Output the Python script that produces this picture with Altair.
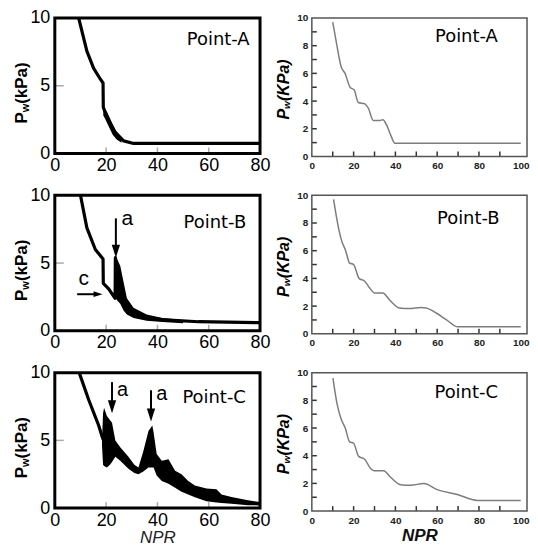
import altair as alt
import pandas as pd

SANS = "Liberation Sans"
LAB = "DejaVu Sans"

# ---------------- Left column: measured wall pressure traces ----------------
left_xticks = [0, 20, 40, 60, 80]
left_yticks = [0, 5, 10]
left_inner_xticks = [20, 40, 60]
left_inner_yticks = [5]

la_npr = [9.3, 12.5, 15.1, 17.7, 18.8, 18.9, 21.0, 23.6, 26.8, 30.7, 80.0]
la_pw = [10.0, 7.55, 6.3, 5.5, 5.2, 3.4, 2.4, 1.55, 0.93, 0.74, 0.74]
la_band_npr = [18.9, 19.5, 20.5, 21.5, 22.5, 24.0, 26.0]
la_band_hi = [3.5, 3.3, 3.0, 2.6, 2.2, 1.6, 1.15]
la_band_lo = [2.8, 2.6, 2.2, 1.8, 1.4, 1.05, 0.8]

lb_npr = [10.0, 12.5, 15.8, 18.8, 18.9, 21.0, 23.5, 23.6, 25.5, 27.0, 30.0, 35.0, 43.0, 56.0, 80.0]
lb_pw = [10.0, 7.6, 6.0, 5.3, 3.5, 3.1, 2.4, 5.4, 3.4, 2.0, 1.35, 1.0, 0.8, 0.67, 0.6]
lb_band_npr = [23.7, 24.5, 25.5, 26.8, 28.1, 30.7, 35.8, 42.0, 50.0]
lb_band_hi = [5.4, 5.2, 4.8, 3.6, 2.4, 1.7, 1.2, 0.95, 0.8]
lb_band_lo = [2.4, 2.2, 2.0, 1.5, 1.2, 0.95, 0.75, 0.65, 0.55]

lc_npr = [9.5, 13.2, 17.1, 18.4, 19.2]
lc_pw = [10.0, 8.0, 6.1, 5.3, 4.9]
lc_band_npr = [18.4, 18.8, 19.2, 20.3, 21.5, 22.3, 23.6, 25.5, 28.7, 31.0, 32.6, 34.5,
               36.5, 38.0, 38.5, 39.7, 41.7, 44.3, 46.9, 49.4, 52.0, 54.6, 59.1, 63.0,
               65.0, 68.9, 75.3, 80.0]
lc_band_hi = [5.0, 7.0, 7.4, 6.8, 6.5, 6.3, 5.0, 4.5, 3.8, 3.2, 3.0, 4.2,
              5.7, 6.1, 5.6, 4.0, 3.5, 3.6, 2.75, 2.5, 2.0, 1.67, 1.45, 1.4,
              1.0, 0.82, 0.58, 0.45]
lc_band_lo = [4.6, 3.2, 3.1, 3.0, 3.2, 3.4, 3.8, 3.5, 2.9, 2.6, 2.5, 2.7,
              3.0, 3.0, 3.0, 2.4, 2.0, 1.8, 1.5, 1.2, 1.0, 0.8, 0.5, 0.42,
              0.38, 0.32, 0.22, 0.2]

# annotations (arrows and letters) for the left column
b_arrow_npr = [23.8]
b_arrow_top = [8.3]
b_arrow_tip = [5.4]
b_c_arrow_from = [8.7]
b_c_arrow_tip = [18.6]
b_c_arrow_pw = [2.7]
b_text_npr = [28.3, 11.3]
b_text_pw = [7.8, 3.4]
b_text = ["a", "c"]

c_arrow_npr = [22.3, 37.5]
c_arrow_top = [9.3, 8.7]
c_arrow_tip = [7.0, 6.4]
c_text_npr = [26.4, 41.7]
c_text_pw = [8.3, 8.0]
c_text = ["a", "a"]

# ---------------- Right column: computed wall pressure ----------------
right_xticks = [0, 20, 40, 60, 80, 100]
right_yticks = [0, 2, 4, 6, 8, 10]
right_inner_xticks = [10, 20, 30, 40, 50, 60, 70, 80, 90]
right_inner_yticks = [1, 2, 3, 4, 5, 6, 7, 8, 9]

ra_npr = [10.0, 11.9, 14.0, 15.9, 18.3, 20.3, 22.2, 25.4, 27.0, 29.4, 32.5, 34.0, 35.7, 38.0, 39.7, 100.0]
ra_pw = [9.7, 8.1, 6.5, 6.0, 5.0, 4.8, 3.9, 3.8, 3.5, 2.6, 2.6, 2.65, 2.3, 1.45, 0.96, 0.95]

rb_npr = [10.4, 12.5, 14.1, 16.2, 18.1, 20.0, 22.6, 25.3, 27.7, 30.1, 34.0, 37.1, 41.9, 46.7,
          52.3, 54.7, 59.5, 64.3, 69.9, 100.0]
rb_pw = [9.7, 7.85, 6.8, 6.0, 5.1, 5.0, 4.0, 3.8, 3.3, 2.95, 2.95, 2.46, 1.87, 1.82,
         1.9, 1.87, 1.5, 1.03, 0.5, 0.5]

rc_npr = [10.1, 12.0, 13.9, 16.0, 18.1, 20.0, 22.4, 25.3, 28.0, 29.9, 34.4, 37.6, 42.4, 47.2,
          53.6, 60.0, 69.6, 79.2, 100.0]
rc_pw = [9.6, 7.8, 6.7, 6.0, 5.0, 4.9, 3.95, 3.75, 3.1, 2.92, 2.92, 2.46, 1.91, 1.87,
         1.99, 1.55, 1.2, 0.77, 0.77]

point_labels = ["Point-A", "Point-B", "Point-C"]
left_label_npr = [63.7, 62.4, 62.1]
left_label_pw = [8.4, 7.95, 8.15]
right_label_npr = [74.0, 74.9, 73.9]
right_label_pw = [8.6, 8.3, 8.5]

LW, LH = 206, 136
RW, RH = 216, 139


def left_x(show_title):
    kw = dict(values=left_xticks, labelFont=SANS, labelFontSize=18, labelColor="#000",
              ticks=False, domain=False, grid=False, labelPadding=3, labelFlush=False,
              labelOverlap=False)
    if show_title:
        kw.update(title="NPR", titleFont=SANS, titleFontSize=17, titleFontStyle="italic",
                  titleFontWeight="normal", titleColor="#222", titlePadding=1)
    else:
        kw.update(title="")
    return alt.X("npr:Q", scale=alt.Scale(domain=[0, 80], nice=False, zero=False), axis=alt.Axis(**kw))


def left_y():
    return alt.Y("pw:Q", scale=alt.Scale(domain=[0, 10], nice=False, zero=False),
                 axis=alt.Axis(values=left_yticks, labelFont=SANS, labelFontSize=18, labelColor="#000",
                               ticks=False, domain=False, grid=False, labelPadding=5, title=""))


def right_x(show_title):
    kw = dict(values=right_xticks, labelFont=SANS, labelFontSize=10, labelFontWeight="bold",
              labelColor="#222", ticks=False, domain=False, grid=False, labelPadding=4,
              labelFlush=False, labelOverlap=False)
    if show_title:
        kw.update(title="NPR", titleFont=SANS, titleFontSize=17, titleFontStyle="italic",
                  titleFontWeight="bold", titleColor="#111", titlePadding=3)
    else:
        kw.update(title="")
    return alt.X("npr:Q", scale=alt.Scale(domain=[0, 103], nice=False, zero=False), axis=alt.Axis(**kw))


def right_y():
    return alt.Y("pw:Q", scale=alt.Scale(domain=[0, 10], nice=False, zero=False),
                 axis=alt.Axis(values=right_yticks, labelFont=SANS, labelFontSize=10,
                               labelFontWeight="bold", labelColor="#222", ticks=False,
                               domain=False, grid=False, labelPadding=4, title=""))


def ytitle(parts, sizes, advances, x_base, y_start, sub_shift, style):
    layers = []
    y = y_start
    for i, (txt, fs) in enumerate(zip(parts, sizes)):
        xx = x_base + (sub_shift if i == 1 else 0)
        layers.append(
            alt.Chart(pd.DataFrame({"t": [txt]})).mark_text(
                font=SANS, fontSize=fs, fontWeight="bold", fontStyle=style, angle=270,
                align="left", baseline="alphabetic", color="#000"
            ).encode(x=alt.value(xx), y=alt.value(y), text="t:N")
        )
        if i < len(advances):
            y -= advances[i]
    return layers


def frame(w, h, color, width):
    return alt.Chart(pd.DataFrame({"f": [0]})).mark_rect(
        fillOpacity=0, stroke=color, strokeWidth=width
    ).encode(x=alt.value(0), x2=alt.value(w), y=alt.value(0), y2=alt.value(h))


def arrow_down(xe, ye, npr, top, tip, head_units):
    shaft = pd.DataFrame({"npr": npr, "pw": top, "pw2": [t + head_units for t in tip]})
    head = pd.DataFrame({"npr": npr, "pw": tip})
    return [
        alt.Chart(shaft).mark_rule(color="#000", strokeWidth=2).encode(x=xe, y=ye, y2="pw2:Q"),
        alt.Chart(head).mark_point(shape="M -0.32 -1 L 0.32 -1 L 0 0 Z", size=676, filled=True,
                                   color="#000", opacity=1, strokeWidth=0).encode(x=xe, y=ye),
    ]


def left_panel(i, line_npr, line_pw, band_npr, band_hi, band_lo, extra, show_title):
    xe, ye = left_x(show_title), left_y()
    layers = [
        alt.Chart(pd.DataFrame({"npr": left_inner_xticks})).mark_rule(color="#aaa", strokeWidth=1.5)
        .encode(x=xe, y=alt.value(LH), y2=alt.value(LH - 6)),
        alt.Chart(pd.DataFrame({"pw": left_inner_yticks})).mark_rule(color="#aaa", strokeWidth=1.5)
        .encode(y=ye, x=alt.value(0), x2=alt.value(9)),
        alt.Chart(pd.DataFrame({"npr": band_npr, "pw": band_hi, "lo": band_lo}))
        .mark_area(color="#000", opacity=1, clip=True).encode(x=xe, y=ye, y2="lo:Q"),
        alt.Chart(pd.DataFrame({"npr": line_npr, "pw": line_pw}))
        .mark_line(color="#000", strokeWidth=3.2, clip=True, strokeJoin="round").encode(x=xe, y=ye),
        alt.Chart(pd.DataFrame({"npr": [left_label_npr[i]], "pw": [left_label_pw[i]], "t": [point_labels[i]]}))
        .mark_text(font=LAB, fontSize=18, align="center", baseline="middle", color="#000")
        .encode(x=xe, y=ye, text="t:N"),
        frame(LW, LH, "#000", 3),
    ]
    layers += extra(xe, ye)
    layers += ytitle(["P", "w", "(kPa)"], [17, 11, 17], [11.3, 8.6], -28, 106, 2, "normal")
    return alt.layer(*layers).properties(width=LW, height=LH)


def right_panel(i, line_npr, line_pw, show_title):
    xe, ye = right_x(show_title), right_y()
    layers = [
        alt.Chart(pd.DataFrame({"npr": right_inner_xticks})).mark_rule(color="#333", strokeWidth=1.5)
        .encode(x=xe, y=alt.value(RH), y2=alt.value(RH - 5)),
        alt.Chart(pd.DataFrame({"pw": right_inner_yticks})).mark_rule(color="#333", strokeWidth=1.5)
        .encode(y=ye, x=alt.value(0), x2=alt.value(5)),
        alt.Chart(pd.DataFrame({"npr": line_npr, "pw": line_pw}))
        .mark_line(color="#7d7d7d", strokeWidth=1.5, interpolate="monotone", clip=True).encode(x=xe, y=ye),
        alt.Chart(pd.DataFrame({"npr": [right_label_npr[i]], "pw": [right_label_pw[i]], "t": [point_labels[i]]}))
        .mark_text(font=LAB, fontSize=18, align="center", baseline="middle", color="#000")
        .encode(x=xe, y=ye, text="t:N"),
        frame(RW, RH, "#555", 1.5),
    ]
    layers += ytitle(["P", "w", "(KPa)"], [16, 10, 16], [10.7, 8.0], -23, 102, 1.5, "italic")
    return alt.layer(*layers).properties(width=RW, height=RH)


def no_extra(xe, ye):
    return []


def extra_b(xe, ye):
    lay = arrow_down(xe, ye, b_arrow_npr, b_arrow_top, b_arrow_tip, 0.6)
    hshaft = pd.DataFrame({"npr": b_c_arrow_from, "npr2": [t - 2.0 for t in b_c_arrow_tip], "pw": b_c_arrow_pw})
    hhead = pd.DataFrame({"npr": b_c_arrow_tip, "pw": b_c_arrow_pw})
    lay += [
        alt.Chart(hshaft).mark_rule(color="#000", strokeWidth=2).encode(x=xe, x2="npr2:Q", y=ye),
        alt.Chart(hhead).mark_point(shape="M -1 -0.32 L -1 0.32 L 0 0 Z", size=324, filled=True,
                                    color="#000", opacity=1, strokeWidth=0).encode(x=xe, y=ye),
        alt.Chart(pd.DataFrame({"npr": b_text_npr, "pw": b_text_pw, "t": b_text}))
        .mark_text(font=SANS, fontSize=21, align="center", baseline="alphabetic", color="#000")
        .encode(x=xe, y=ye, text="t:N"),
    ]
    return lay


def extra_c(xe, ye):
    lay = arrow_down(xe, ye, c_arrow_npr, c_arrow_top, c_arrow_tip, 0.6)
    lay += [
        alt.Chart(pd.DataFrame({"npr": c_text_npr, "pw": c_text_pw, "t": c_text}))
        .mark_text(font=SANS, fontSize=20, align="center", baseline="alphabetic", color="#000")
        .encode(x=xe, y=ye, text="t:N"),
    ]
    return lay


panels = [
    left_panel(0, la_npr, la_pw, la_band_npr, la_band_hi, la_band_lo, no_extra, False),
    right_panel(0, ra_npr, ra_pw, False),
    left_panel(1, lb_npr, lb_pw, lb_band_npr, lb_band_hi, lb_band_lo, extra_b, False),
    right_panel(1, rb_npr, rb_pw, False),
    left_panel(2, lc_npr, lc_pw, lc_band_npr, lc_band_hi, lc_band_lo, extra_c, True),
    right_panel(2, rc_npr, rc_pw, True),
]

chart = alt.concat(
    *panels, columns=2, spacing={"row": 39, "column": 52}, bounds="flush", align="each"
).properties(
    padding={"left": 5, "top": 0, "right": 0, "bottom": 0}
).configure_axis(grid=False).configure_view(stroke=None)

chart.save("out.html", embed_options={"renderer": "svg", "actions": False})
